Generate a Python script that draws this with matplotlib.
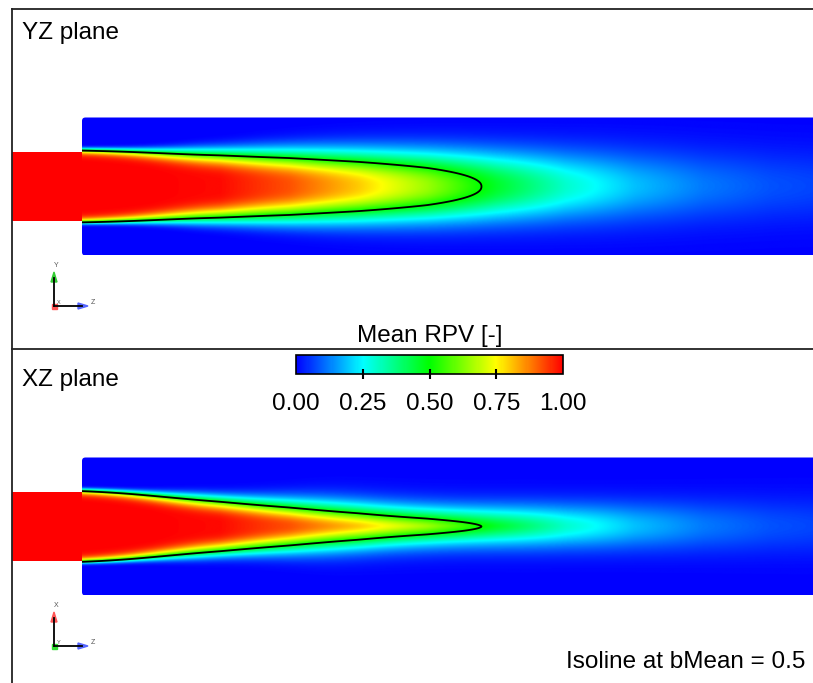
import numpy as np
import matplotlib
matplotlib.use("Agg")
import matplotlib.pyplot as plt
from matplotlib.colors import LinearSegmentedColormap
from matplotlib.patches import Rectangle, FancyBboxPatch, Polygon
from matplotlib.lines import Line2D

plt.rcParams["font.family"] = ["Liberation Sans", "DejaVu Sans"]

# stations along the jet axis, z/D downstream of the nozzle exit
z_station = [0, 1, 2, 3, 4, 5, 6, 7, 8, 9, 10, 11]
# mean RPV on the centreline (same axis for both planes)
b_axis = [1.0, 1.0, 0.99, 0.92, 0.80, 0.65, 0.46, 0.30, 0.19, 0.12, 0.08, 0.06]
# radial profile width (r/D) and profile exponent, YZ plane
yz_width = [0.54, 0.51, 0.49, 0.485, 0.48, 0.48, 0.48, 0.49, 0.50, 0.51, 0.52, 0.53]
yz_shape = [16.0, 6.5, 4.0, 2.9, 2.5, 2.3, 2.2, 2.1, 2.0, 2.0, 2.0, 2.0]
# radial profile width (r/D) and profile exponent, XZ plane
xz_width = [0.54, 0.47, 0.39, 0.335, 0.29, 0.24, 0.27, 0.31, 0.34, 0.37, 0.40, 0.43]
xz_shape = [16.0, 6.0, 3.8, 2.2, 1.8, 1.6, 1.7, 1.9, 2.0, 2.0, 2.0, 2.0]

cbar_ticks = [0.0, 0.25, 0.5, 0.75, 1.0]
iso_level = 0.5

W, H = 813, 683
D_PX = 69.0          # nozzle diameter in pixels
X_EXIT = 82          # nozzle exit, px
FS = 17.5


def fx(x):
    return x / W


def fy(y):
    return 1 - y / H


cmap = LinearSegmentedColormap.from_list(
    "rpv", [(0.0, (0, 0, 1)), (0.25, (0, 1, 1)), (0.5, (0, 1, 0)),
            (0.75, (1, 1, 0)), (1.0, (1, 0, 0))])


def smooth(z, values, win=0.8):
    # stations interpolated on the grid, then a running mean to hide the kinks
    v = np.interp(z, z_station, values)
    n = max(1, int(win / (z[1] - z[0])))
    vp = np.pad(v, n, mode="edge")
    k = np.ones(2 * n + 1) / (2 * n + 1)
    return np.convolve(vp, k, mode="same")[n:-n]


def field(z, r, width, shape):
    c = np.interp(z, z_station, b_axis)
    s = smooth(z, width)
    p = smooth(z, shape)
    return c[None, :] * np.exp(-(np.abs(r)[:, None] / s[None, :]) ** p[None, :])


def draw_panel(fig, y_top, y_bot, y_axis, width, shape, title, title_y):
    ax = fig.add_axes([fx(12), fy(y_bot), fx(813) - fx(12), fy(y_top) - fy(y_bot)])
    ax.set_xlim((12 - X_EXIT) / D_PX, (813 - X_EXIT) / D_PX)
    ax.set_ylim((y_axis - y_bot) / D_PX, (y_axis - y_top) / D_PX)
    ax.axis("off")

    z = np.linspace(0, 11, 1101)
    r = np.linspace(-1, 1, 401)
    b = field(z, r, width, shape)

    im = ax.imshow(b, extent=[0, 11, -1, 1], origin="lower", cmap=cmap,
                   vmin=0, vmax=1, interpolation="bilinear", aspect="auto")
    box = FancyBboxPatch((0, -1), 11, 2, boxstyle="round,pad=0,rounding_size=0.05",
                         transform=ax.transData, facecolor="none", edgecolor="none")
    ax.add_patch(box)
    im.set_clip_path(box)

    # inlet pipe
    ax.add_patch(Rectangle((-2, -0.5), 2, 1, facecolor=cmap(1.0), edgecolor="none"))

    zz, rr = np.meshgrid(z, r)
    ax.contour(zz, rr, b, levels=[iso_level], colors="k", linewidths=1.3)

    fig.text(fx(22), fy(title_y), title, fontsize=FS, va="baseline", ha="left")
    return ax


def draw_triad(fig, ox, oy, up_col, right_col, dot_col, up_lab, dot_lab):
    tr = fig.transFigure
    fig.add_artist(Line2D([fx(ox), fx(ox)], [fy(oy), fy(oy - 28)], color="k", lw=1.3, transform=tr))
    fig.add_artist(Line2D([fx(ox), fx(ox + 28)], [fy(oy), fy(oy)], color="k", lw=1.3, transform=tr))
    fig.add_artist(Polygon([[fx(ox - 3), fy(oy - 24)], [fx(ox + 3), fy(oy - 24)], [fx(ox), fy(oy - 34)]],
                           closed=True, color=up_col, transform=tr))
    fig.add_artist(Polygon([[fx(ox + 24), fy(oy - 3)], [fx(ox + 24), fy(oy + 3)], [fx(ox + 34), fy(oy)]],
                           closed=True, color=right_col, transform=tr))
    fig.add_artist(Rectangle((fx(ox - 2.5), fy(oy + 2.5)), fx(5), 5 / H, color=dot_col, transform=tr))
    fig.text(fx(ox + 2), fy(oy - 37), up_lab, fontsize=5, color="#555555", ha="center", va="bottom")
    fig.text(fx(ox + 37), fy(oy), "Z", fontsize=5, color="#555555", ha="left", va="bottom")
    fig.text(fx(ox + 3), fy(oy - 1), dot_lab, fontsize=4, color="#555555", ha="left", va="bottom")


fig = plt.figure(figsize=(W / 100, H / 100), dpi=100)

draw_panel(fig, 9, 348, 186.5, yz_width, yz_shape, "YZ plane", 39)
draw_panel(fig, 348, 683, 526.5, xz_width, xz_shape, "XZ plane", 386)

draw_triad(fig, 54, 306, "#33cc33", "#5566ff", "#ff5555", "Y", "X")
draw_triad(fig, 54, 646, "#ff5555", "#5566ff", "#33dd33", "X", "Y")

# frame lines
tr = fig.transFigure
for xs, ys in [([12, 12], [9, 683]), ([12, 813], [9, 9]), ([12, 813], [348.5, 348.5])]:
    fig.add_artist(Line2D([fx(v) for v in xs], [fy(v) for v in ys], color="#222222", lw=1.3, transform=tr))

# colour bar
cax = fig.add_axes([fx(296), fy(374), fx(563) - fx(296), fy(355) - fy(374)])
sm = plt.cm.ScalarMappable(cmap=cmap, norm=plt.Normalize(0, 1))
cb = fig.colorbar(sm, cax=cax, orientation="horizontal", ticks=cbar_ticks, format="%.2f")
cb.outline.set_linewidth(1.2)
cax.tick_params(direction="inout", length=7, width=1.5, labelsize=FS, pad=10)
for t in (cax.xaxis.get_major_ticks()[0], cax.xaxis.get_major_ticks()[-1]):
    t.tick1line.set_visible(False)
fig.text(fx(430), fy(342), "Mean RPV [-]", fontsize=FS, ha="center", va="baseline")

fig.text(fx(805), fy(668), "Isoline at bMean = " + str(iso_level), fontsize=FS, ha="right", va="baseline")

fig.savefig("out.png", dpi=100)
